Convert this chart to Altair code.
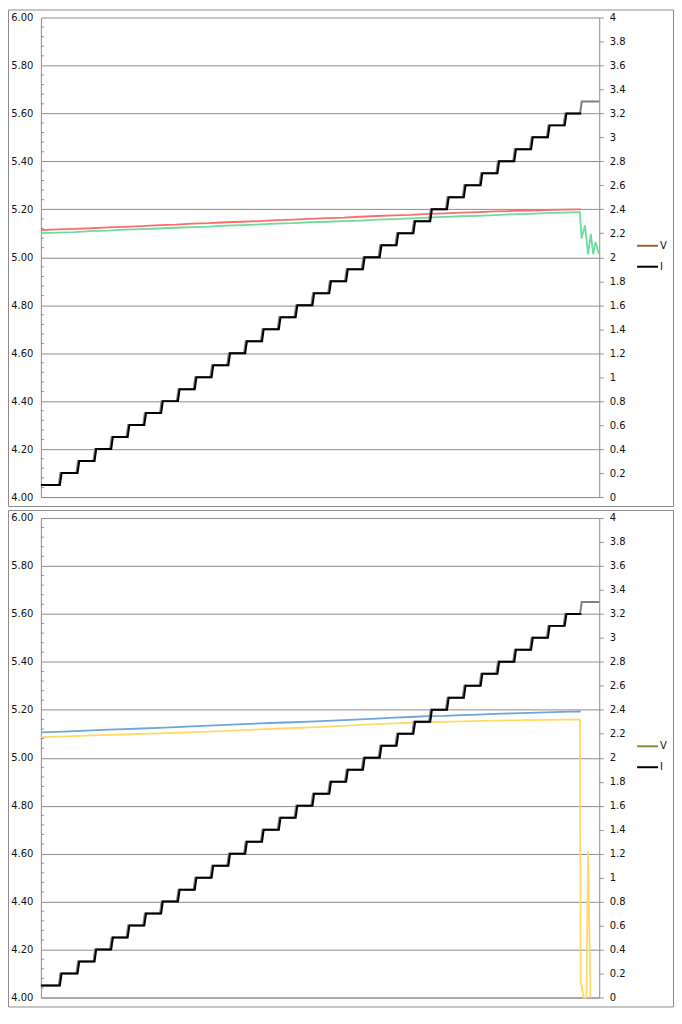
import altair as alt
import pandas as pd

# ---------------- data ----------------
# current steps (A), one level per step
I_LEVELS = [0.1, 0.2, 0.3, 0.4, 0.5, 0.6, 0.7, 0.8, 0.9, 1.0, 1.1, 1.2, 1.3, 1.4, 1.5, 1.6,
            1.7, 1.8, 1.9, 2.0, 2.1, 2.2, 2.3, 2.4, 2.5, 2.6, 2.7, 2.8, 2.9, 3.0, 3.1, 3.2, 3.3]
# time at which each step ends (before rising to the next level)
STEP_ENDS = [1.13, 2.18, 3.19, 4.18, 5.16, 6.15, 7.15, 8.15, 9.15, 10.15, 11.15, 12.15,
             13.15, 14.15, 15.15, 16.15, 17.15, 18.15, 19.15, 20.15, 21.15, 22.15, 23.15,
             24.15, 25.15, 26.15, 27.15, 28.15, 29.15, 30.15, 31.15, 32.13]
T_END = 33.2

T_GRID = [0, 1, 2, 3, 4, 5, 6, 7, 8, 9, 10, 11, 12, 13, 14, 15, 16, 17, 18, 19, 20,
          21, 22, 23, 24, 25, 26, 27, 28, 29, 30, 31, 32]

# top chart voltages
TOP_RED_T = T_GRID + [32.1]
TOP_RED = [5.113, 5.116, 5.118, 5.121, 5.125, 5.127, 5.130, 5.134, 5.136, 5.140, 5.142,
           5.146, 5.148, 5.151, 5.155, 5.157, 5.160, 5.163, 5.165, 5.169, 5.172, 5.175,
           5.177, 5.181, 5.183, 5.186, 5.188, 5.191, 5.193, 5.195, 5.197, 5.199, 5.200, 5.200]
TOP_GREEN_T = T_GRID + [32.05, 32.15, 32.35, 32.54, 32.70, 32.84, 32.98, 33.18]
TOP_GREEN = [5.101, 5.103, 5.105, 5.109, 5.111, 5.115, 5.117, 5.120, 5.123, 5.126, 5.128,
             5.132, 5.134, 5.137, 5.140, 5.142, 5.146, 5.148, 5.151, 5.153, 5.157, 5.159,
             5.162, 5.165, 5.168, 5.171, 5.173, 5.176, 5.179, 5.181, 5.184, 5.186, 5.188,
             5.188, 5.078, 5.133, 5.012, 5.098, 5.012, 5.064, 5.012]

# bottom chart voltages
BOT_BLUE_T = T_GRID + [32.1]
BOT_BLUE = [5.106, 5.108, 5.111, 5.114, 5.117, 5.119, 5.122, 5.125, 5.128, 5.131, 5.134,
            5.137, 5.140, 5.143, 5.146, 5.148, 5.151, 5.154, 5.157, 5.160, 5.163, 5.167,
            5.170, 5.174, 5.175, 5.178, 5.180, 5.183, 5.185, 5.187, 5.189, 5.191, 5.193, 5.192]
BOT_YELLOW_T = T_GRID + [32.05, 32.10, 32.15, 32.28, 32.44, 32.54, 32.68]
BOT_YELLOW = [5.086, 5.088, 5.090, 5.093, 5.095, 5.097, 5.100, 5.102, 5.104, 5.107, 5.109,
              5.112, 5.115, 5.118, 5.121, 5.124, 5.127, 5.130, 5.133, 5.137, 5.140, 5.143,
              5.146, 5.148, 5.150, 5.152, 5.154, 5.155, 5.156, 5.157, 5.158, 5.159, 5.160,
              5.160, 4.060, 4.050, 4.000, 4.000, 4.610, 4.000]

LEFT_TICKS = [4.0, 4.2, 4.4, 4.6, 4.8, 5.0, 5.2, 5.4, 5.6, 5.8, 6.0]
RIGHT_TICKS = [0, 0.2, 0.4, 0.6, 0.8, 1, 1.2, 1.4, 1.6, 1.8, 2, 2.2, 2.4, 2.6, 2.8, 3,
               3.2, 3.4, 3.6, 3.8, 4]
MINOR_TICKS = [round(4 + 0.04 * k, 2) for k in range(51) if k % 5]

# ---------------- styling ----------------
FONT = "DejaVu Sans"
GRID = "#8c8c8c"
FRAME = "#8c8c8c"
W, H = 560, 481
RISER = 0.1
GRAY_LEAD = 0.07

V_SCALE = alt.Scale(domain=[4, 6], nice=False, zero=False)
I_SCALE = alt.Scale(domain=[0, 4], nice=False, zero=False)
X_SCALE = alt.Scale(domain=[0, T_END], nice=False, zero=False)
X_AXIS = alt.Axis(labels=False, ticks=False, grid=False, domain=True,
                  domainColor=GRID, title=None)

one = pd.DataFrame({"k": [0]})


def step_df(levels, ends, shift, last_end):
    rows = []
    n = 0
    for i, lvl in enumerate(levels):
        start = 0.0 if i == 0 else ends[i - 1] + shift + RISER
        end = ends[i] + shift if i < len(ends) else last_end
        rows.append({"t": start, "i": lvl, "o": n}); n += 1
        rows.append({"t": end, "i": lvl, "o": n}); n += 1
    return pd.DataFrame(rows)


def v_layer(ts, vs, color, axis):
    df = pd.DataFrame({"t": ts, "v": vs, "o": list(range(len(ts)))})
    return alt.Chart(df).mark_line(color=color, strokeWidth=1.8).encode(
        x=alt.X("t:Q", scale=X_SCALE, axis=X_AXIS),
        y=alt.Y("v:Q", scale=V_SCALE, axis=axis),
        order="o:Q",
    )


def panel(series, legend_v_color):
    left_axis = alt.Axis(orient="left", values=LEFT_TICKS, format=".2f", grid=True,
                         gridColor=GRID, gridWidth=1, ticks=False, domainColor=GRID,
                         labelPadding=8, title=None)
    right_axis = alt.Axis(orient="right", values=RIGHT_TICKS, format="~g", grid=False,
                          ticks=True, tickSize=4, tickColor=GRID, domainColor=GRID,
                          labelPadding=6, title=None)

    frame = alt.Chart(one).mark_rect(fillOpacity=0, stroke=FRAME, strokeWidth=1).encode(
        x=alt.value(-32.5), x2=alt.value(W + 74.5), y=alt.value(-7.5), y2=alt.value(H + 9.5))

    minor = alt.Chart(pd.DataFrame({"v": MINOR_TICKS})).mark_rule(color=GRID).encode(
        y=alt.Y("v:Q", scale=V_SCALE, axis=None), x=alt.value(0), x2=alt.value(3))

    layers = [frame, minor]
    for idx, (ts, vs, col) in enumerate(series):
        layers.append(v_layer(ts, vs, col, left_axis if idx == 0 else None))

    gray = step_df(I_LEVELS, STEP_ENDS, -GRAY_LEAD, T_END)
    black = step_df(I_LEVELS[:len(STEP_ENDS)], STEP_ENDS, 0.0, T_END)
    layers.append(alt.Chart(gray).mark_line(color="#7f7f7f", strokeWidth=2).encode(
        x=alt.X("t:Q", scale=X_SCALE, axis=X_AXIS),
        y=alt.Y("i:Q", scale=I_SCALE, axis=None), order="o:Q"))
    layers.append(alt.Chart(black).mark_line(color="#000000", strokeWidth=2).encode(
        x=alt.X("t:Q", scale=X_SCALE, axis=X_AXIS),
        y=alt.Y("i:Q", scale=I_SCALE, axis=right_axis), order="o:Q"))

    for label, col, yy in [("V", legend_v_color, 229), ("I", "#000000", 250)]:
        layers.append(alt.Chart(one).mark_rule(color=col, strokeWidth=2).encode(
            x=alt.value(W + 38), x2=alt.value(W + 59), y=alt.value(yy)))
        layers.append(alt.Chart(one).mark_text(text=label, align="left", baseline="middle",
                                               font=FONT, fontSize=10, color="#111111").encode(
            x=alt.value(W + 61), y=alt.value(yy)))

    return alt.layer(*layers).resolve_scale(y="independent").properties(width=W, height=H)


top = panel([(TOP_RED_T, TOP_RED, "#ff6b6b"), (TOP_GREEN_T, TOP_GREEN, "#6edb9c")], "#9a6133")
bottom = panel([(BOT_BLUE_T, BOT_BLUE, "#6aa6de"), (BOT_YELLOW_T, BOT_YELLOW, "#ffd966")], "#77933c")

chart = alt.vconcat(top, bottom, spacing=3).properties(
    padding=0, background="white"
).configure_view(strokeWidth=0).configure_axis(
    labelFont=FONT, labelFontSize=10, labelColor="#111111"
)

chart.save("out.html", embed_options={"renderer": "svg", "actions": False})
